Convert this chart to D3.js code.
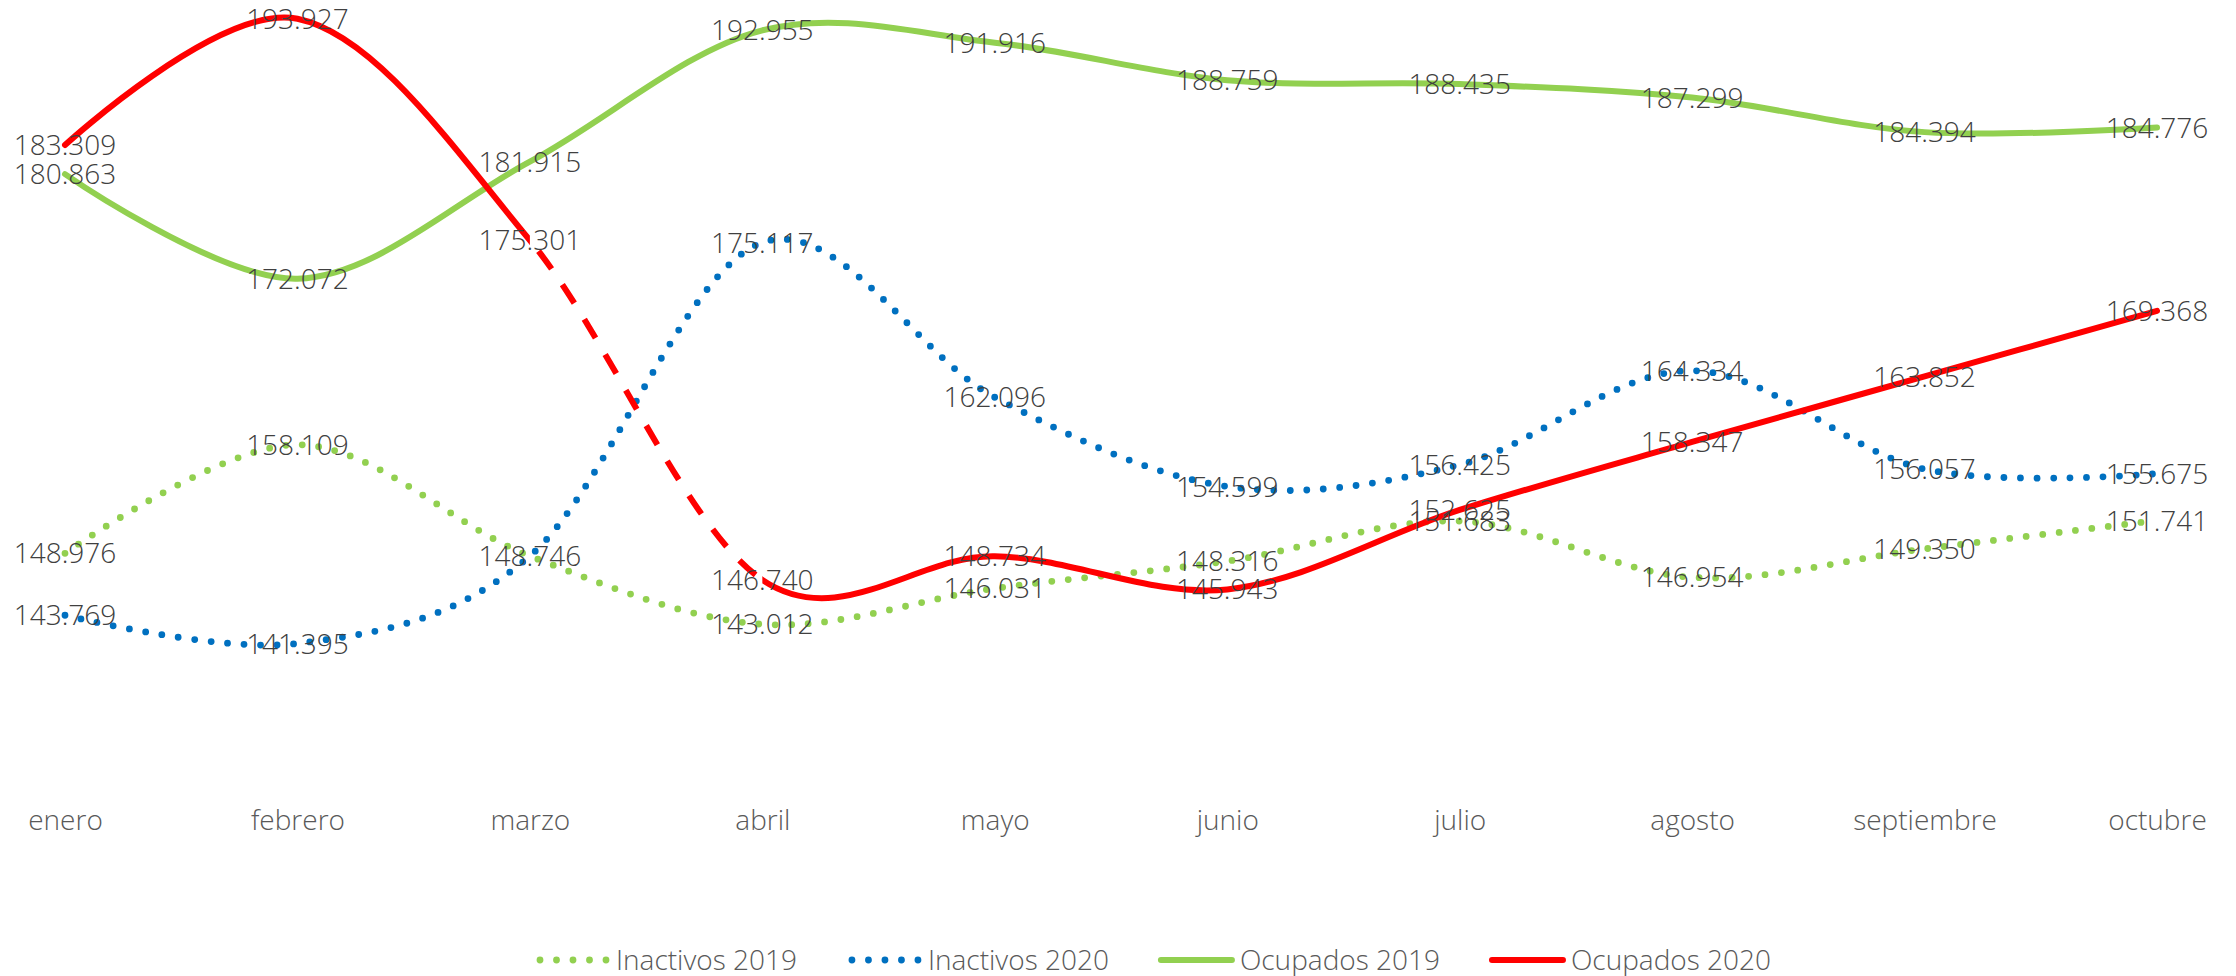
<!DOCTYPE html>
<html>
<head>
<meta charset="utf-8">
<script src="https://cdn.jsdelivr.net/npm/d3@7"></script>
<style>
  html, body { margin: 0; padding: 0; background: #ffffff; }
  svg { display: block; }
  text { font-family: "Open Sans", "Lato", "DejaVu Sans", sans-serif; font-weight: 300; }
</style>
</head>
<body>
<svg id="chart" width="2236" height="976"></svg>
<script>
// ---- data ----
const months = ["enero", "febrero", "marzo", "abril", "mayo", "junio", "julio", "agosto", "septiembre", "octubre"];
const inactivos2019 = [148.976, 158.109, 148.746, 143.012, 146.031, 148.316, 151.683, 146.954, 149.350, 151.741];
const inactivos2020 = [143.769, 141.395, 148.746, 175.117, 162.096, 154.599, 156.425, 164.334, 156.057, 155.675];
const ocupados2019 = [180.863, 172.072, 181.915, 192.955, 191.916, 188.759, 188.435, 187.299, 184.394, 184.776];
const ocupados2020 = [183.309, 193.927, 175.301, 146.740, 148.734, 145.943, 152.625, 158.347, 163.852, 169.368];
const seriesNames = ["Inactivos 2019", "Inactivos 2020", "Ocupados 2019", "Ocupados 2020"];
const dashedFrom = "marzo", dashedTo = "abril";   // Ocupados 2020 segment drawn dashed

// ---- layout ----
const W = 2236, H = 976;
const svg = d3.select("#chart");
svg.append("rect").attr("width", W).attr("height", H).attr("fill", "#ffffff");

const x = d3.scalePoint().domain(months).range([65, 2157]);
const y = d3.scaleLinear().domain([130, 195]).range([779, 6]);

const series = [
  { name: seriesNames[0], values: inactivos2019, color: "#92D050", style: "dot" },
  { name: seriesNames[1], values: inactivos2020, color: "#0070C0", style: "dot" },
  { name: seriesNames[2], values: ocupados2019, color: "#92D050", style: "solid" },
  { name: seriesNames[3], values: ocupados2020, color: "#FF0000", style: "solid", dashed: [dashedFrom, dashedTo] }
];

const line = d3.line()
  .x((d, i) => x(months[i]))
  .y(d => y(d))
  .curve(d3.curveCardinal.tension(0));

const defs = svg.append("defs");
defs.append("clipPath").attr("id", "clipSolid")
  .call(cp => {
    cp.append("rect").attr("x", 0).attr("y", 0).attr("width", x(dashedFrom)).attr("height", H);
    cp.append("rect").attr("x", x(dashedTo)).attr("y", 0).attr("width", W - x(dashedTo)).attr("height", H);
  });
defs.append("clipPath").attr("id", "clipDash")
  .append("rect").attr("x", x(dashedFrom)).attr("y", 0)
  .attr("width", x(dashedTo) - x(dashedFrom)).attr("height", H);

const linesG = svg.append("g");
series.forEach(s => {
  if (s.style === "dot") {
    linesG.append("path")
      .attr("d", line(s.values))
      .attr("fill", "none")
      .attr("stroke", s.color)
      .attr("stroke-width", 6.8)
      .attr("stroke-linecap", "round")
      .attr("stroke-dasharray", "0 16.5");
  } else if (s.dashed) {
    linesG.append("path")
      .attr("d", line(s.values))
      .attr("fill", "none")
      .attr("stroke", s.color)
      .attr("stroke-width", 6)
      .attr("stroke-linecap", "round")
      .attr("clip-path", "url(#clipSolid)");
    const p = linesG.append("path")
      .attr("d", line(s.values))
      .attr("fill", "none")
      .attr("stroke", s.color)
      .attr("stroke-width", 6)
      .attr("stroke-linecap", "butt")
      .attr("stroke-dasharray", "22 19")
      .attr("clip-path", "url(#clipDash)");
    // find path length at the start of the dashed segment to set the dash phase
    const node = p.node();
    const total = node.getTotalLength();
    const xs = x(s.dashed[0]);
    let lo = 0, hi = total;
    for (let k = 0; k < 40; k++) {
      const mid = (lo + hi) / 2;
      if (node.getPointAtLength(mid).x < xs) lo = mid; else hi = mid;
    }
    p.attr("stroke-dashoffset", -(lo + 14));
  } else {
    linesG.append("path")
      .attr("d", line(s.values))
      .attr("fill", "none")
      .attr("stroke", s.color)
      .attr("stroke-width", 6)
      .attr("stroke-linecap", "round");
  }
});

// ---- data labels (centered on points) ----
const fmt = v => v.toFixed(3);
const labelsG = svg.append("g");
const drawn = new Set();
series.forEach(s => {
  s.values.forEach((d, i) => {
    const key = months[i] + "|" + fmt(d);
    if (drawn.has(key)) return;   // identical label at the same spot: overlapped exactly
    drawn.add(key);
    labelsG.append("text")
      .attr("x", x(months[i]))
      .attr("y", y(d))
      .attr("dy", "0.36em")
      .attr("text-anchor", "middle")
      .attr("font-size", 28)
      .attr("fill", "#404040")
      .text(fmt(d));
  });
});

// ---- x axis labels ----
const axisG = svg.append("g").attr("transform", "translate(0,830)");
const xAxis = d3.axisBottom(x).tickSize(0).tickPadding(0);
axisG.call(xAxis);
axisG.select(".domain").remove();
axisG.selectAll("text")
  .attr("y", 0).attr("dy", 0)
  .attr("font-size", 28)
  .attr("fill", "#595959")
  .style("font-family", "\"Open Sans\", \"Lato\", sans-serif")
  .style("font-weight", 300);

// ---- legend ----
const legend = svg.append("g");
let lx = 537;
const ly = 960;
series.forEach(s => {
  const g = legend.append("g");
  const m = g.append("line")
    .attr("x1", lx + (s.style === "dot" ? 3 : 0)).attr("x2", lx + 71)
    .attr("y1", ly).attr("y2", ly)
    .attr("stroke", s.color);
  if (s.style === "dot") {
    m.attr("stroke-width", 6.8).attr("stroke-linecap", "round").attr("stroke-dasharray", "0 16.5");
  } else {
    m.attr("stroke-width", 6).attr("stroke-linecap", "round");
  }
  const t = g.append("text")
    .attr("x", lx + 79).attr("y", ly + 10)
    .attr("font-size", 28)
    .attr("fill", "#595959")
    .text(s.name);
  lx = lx + 79 + t.node().getComputedTextLength() + 52;
});
</script>
</body>
</html>
